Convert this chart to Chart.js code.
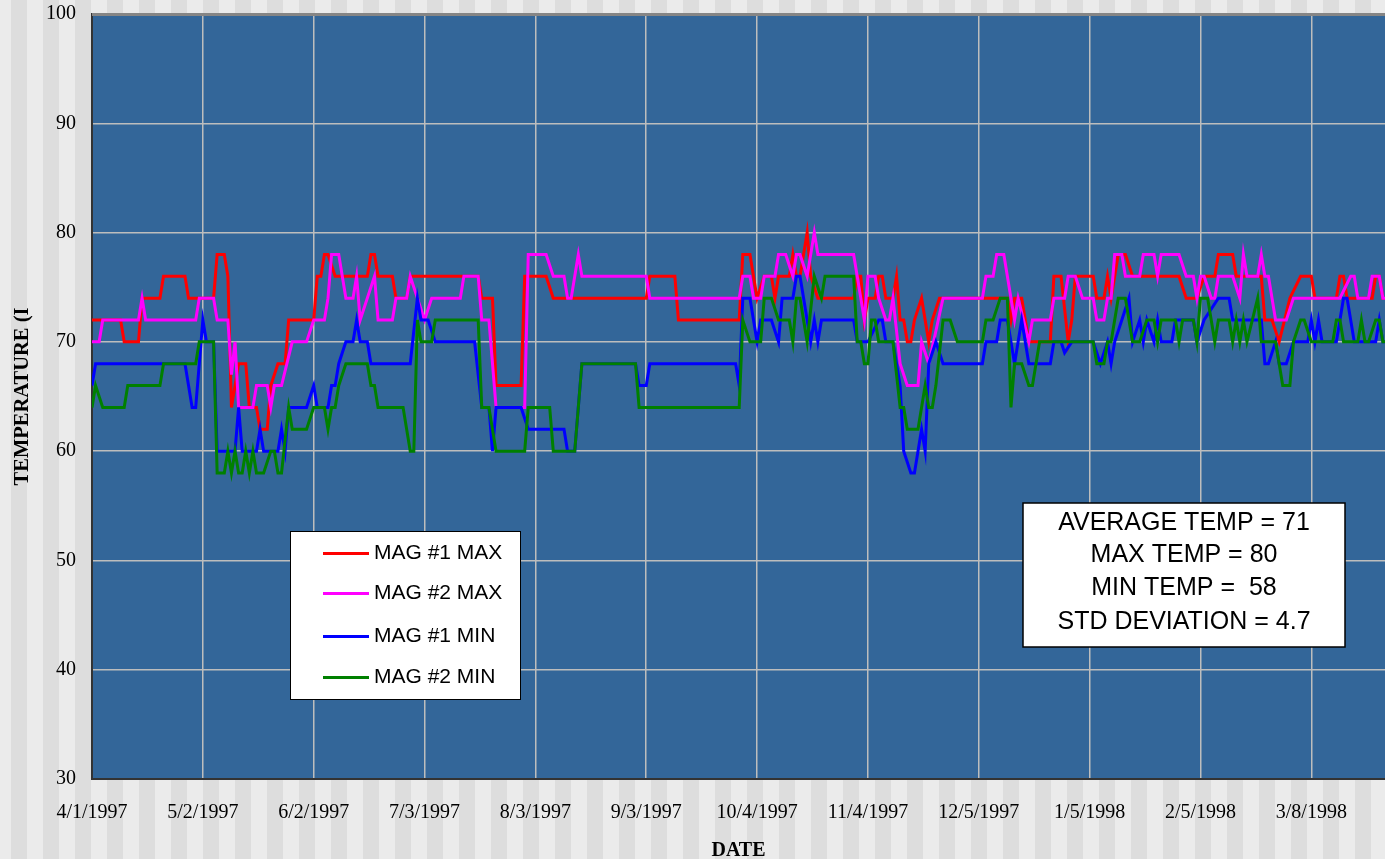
<!DOCTYPE html>
<html>
<head>
<meta charset="utf-8">
<title>Magazine temperatures 1997-1998</title>
<script src="https://cdn.jsdelivr.net/npm/chart.js@4.4.0/dist/chart.umd.min.js"></script>
<style>
    html, body { margin: 0; padding: 0; background: #ebebeb; }
    canvas { display: block; }
</style>
</head>
<body>
<canvas id="tempChart" width="1385" height="859"></canvas>
<script>
// values, day 0 = 4/1/1997
const dateLabels = ['4/1/1997', '5/2/1997', '6/2/1997', '7/3/1997', '8/3/1997', '9/3/1997',
    '10/4/1997', '11/4/1997', '12/5/1997', '1/5/1998', '2/5/1998', '3/8/1998'];
const tickDays = [0, 31, 62, 93, 124, 155, 186, 217, 248, 279, 310, 341];
const tempTicks = [30, 40, 50, 60, 70, 80, 90, 100];

const legendLabels = ['MAG #1 MAX', 'MAG #2 MAX', 'MAG #1 MIN', 'MAG #2 MIN'];
const statLines = ['AVERAGE TEMP = 71', 'MAX TEMP = 80', 'MIN TEMP =  58', 'STD DEVIATION = 4.7'];

const mag1MaxDays = [0, 8, 9, 13, 14, 19, 20, 26, 27, 34,
    35, 37, 38, 39, 41, 43, 44, 46, 47, 49,
    50, 52, 54, 55, 62, 63, 64, 65, 66, 68,
    77, 78, 79, 80, 84, 85, 88, 89, 108, 109,
    112, 113, 120, 121, 127, 129, 155, 156, 163, 164,
    181, 182, 184, 186, 188, 190, 191, 192, 195, 196,
    197, 198, 200, 201, 203, 213, 214, 215, 216, 217,
    219, 220, 221, 222, 224, 225, 226, 227, 228, 229,
    230, 232, 233, 234, 235, 237, 256, 257, 258, 260,
    261, 262, 268, 269, 271, 273, 274, 275, 280, 281,
    283, 284, 285, 287, 289, 291, 304, 306, 309, 311,
    314, 315, 319, 320, 327, 328, 330, 332, 335, 338,
    341, 342, 348, 349, 350, 351, 358, 359, 360, 361, 362];
const mag1MaxTemps = [72, 72, 70, 70, 74, 74, 76, 76, 74, 74,
    78, 78, 76, 64, 68, 68, 64, 64, 62, 62,
    66, 68, 68, 72, 72, 76, 76, 78, 78, 76,
    76, 78, 78, 76, 76, 74, 74, 76, 76, 74,
    74, 66, 66, 76, 76, 74, 74, 76, 76, 72,
    72, 78, 78, 74, 76, 76, 74, 76, 76, 78,
    76, 76, 80, 76, 74, 74, 76, 76, 72, 74,
    74, 76, 76, 74, 74, 76, 72, 72, 70, 70,
    72, 74, 72, 70, 72, 74, 74, 72, 74, 74,
    72, 70, 70, 76, 76, 70, 72, 76, 76, 74,
    74, 76, 74, 78, 78, 76, 76, 74, 74, 76,
    76, 78, 78, 76, 76, 72, 72, 70, 74, 76,
    76, 74, 74, 76, 76, 74, 74, 76, 76, 74, 74];

const mag2MaxDays = [0, 2, 3, 13, 14, 15, 29, 30, 34, 35,
    38, 39, 40, 41, 45, 46, 49, 50, 51, 53,
    56, 60, 62, 65, 66, 67, 69, 71, 73, 74,
    75, 79, 80, 84, 85, 88, 89, 91, 93, 95,
    103, 104, 108, 109, 111, 112, 113, 121, 122, 127,
    129, 132, 133, 134, 136, 137, 155, 156, 181, 182,
    184, 185, 187, 188, 191, 192, 194, 196, 197, 198,
    200, 202, 203, 213, 214, 216, 217, 219, 220, 222,
    223, 224, 226, 228, 231, 232, 234, 238, 249, 250,
    252, 253, 255, 257, 258, 259, 262, 263, 268, 269,
    272, 273, 275, 277, 280, 281, 283, 284, 285, 286,
    288, 289, 293, 294, 297, 298, 299, 304, 306, 308,
    309, 310, 311, 313, 314, 315, 319, 321, 322, 323,
    326, 327, 328, 329, 331, 334, 336, 349, 352, 353,
    354, 357, 358, 360, 361, 362];
const mag2MaxTemps = [70, 70, 72, 72, 74, 72, 72, 74, 74, 72,
    72, 67, 70, 64, 64, 66, 66, 64, 66, 66,
    70, 70, 72, 72, 74, 78, 78, 74, 74, 76,
    72, 76, 72, 72, 74, 74, 76, 74, 72, 74,
    74, 76, 76, 72, 72, 68, 64, 64, 78, 78,
    76, 76, 74, 74, 78, 76, 76, 74, 74, 76,
    76, 74, 74, 76, 76, 78, 78, 76, 78, 78,
    76, 80, 78, 78, 76, 72, 76, 76, 74, 72,
    72, 74, 68, 66, 66, 70, 68, 74, 74, 76,
    76, 78, 78, 74, 72, 74, 70, 72, 72, 74,
    74, 76, 76, 74, 74, 72, 72, 74, 74, 78,
    78, 76, 76, 78, 78, 76, 78, 78, 76, 76,
    74, 76, 76, 74, 74, 76, 76, 74, 78, 76,
    76, 78, 76, 76, 72, 72, 74, 74, 76, 76,
    74, 74, 76, 76, 74, 74];

const mag1MinDays = [0, 1, 26, 27, 28, 29, 31, 32, 34, 35,
    40, 41, 42, 46, 47, 48, 52, 53, 54, 55,
    60, 62, 63, 66, 67, 68, 69, 71, 73, 74,
    75, 77, 78, 89, 91, 92, 94, 96, 107, 109,
    111, 112, 113, 120, 122, 132, 133, 135, 137, 152,
    153, 155, 156, 180, 181, 182, 184, 186, 187, 190,
    192, 193, 196, 197, 198, 201, 202, 203, 204, 213,
    214, 217, 220, 221, 222, 224, 225, 226, 227, 229,
    230, 231, 232, 233, 234, 236, 238, 249, 250, 253,
    254, 256, 258, 259, 260, 262, 268, 269, 271, 272,
    274, 280, 282, 284, 285, 286, 288, 290, 291, 293,
    294, 295, 297, 298, 299, 302, 303, 308, 309, 311,
    315, 318, 319, 327, 328, 329, 331, 332, 334, 336,
    340, 341, 342, 343, 344, 348, 350, 351, 352, 353,
    359, 360, 361, 362];
const mag1MinTemps = [66, 68, 68, 66, 64, 64, 72, 70, 70, 60,
    60, 64, 60, 60, 62, 60, 60, 62, 60, 64,
    64, 66, 64, 64, 66, 66, 68, 70, 70, 72,
    70, 70, 68, 68, 74, 72, 72, 70, 70, 64,
    64, 60, 64, 64, 62, 62, 60, 60, 68, 68,
    66, 66, 68, 68, 66, 74, 74, 70, 72, 72,
    70, 74, 74, 76, 76, 70, 72, 70, 72, 72,
    70, 70, 72, 72, 70, 70, 68, 66, 60, 58,
    58, 60, 62, 60, 68, 70, 68, 68, 70, 70,
    72, 72, 68, 70, 72, 68, 68, 70, 70, 69,
    70, 70, 68, 70, 68, 70, 72, 74, 70, 72,
    70, 72, 70, 72, 70, 70, 72, 72, 70, 72,
    74, 74, 72, 72, 68, 68, 70, 68, 68, 70,
    70, 72, 70, 72, 70, 70, 74, 74, 72, 70,
    70, 72, 70, 70];

const mag2MinDays = [0, 1, 3, 9, 10, 19, 20, 29, 30, 34,
    35, 37, 38, 39, 40, 41, 42, 43, 44, 45,
    46, 48, 50, 51, 52, 53, 55, 56, 60, 62,
    65, 66, 67, 68, 69, 71, 77, 78, 79, 80,
    87, 89, 90, 91, 92, 95, 96, 108, 109, 111,
    113, 121, 122, 128, 129, 135, 137, 152, 153, 181,
    182, 184, 187, 188, 190, 192, 195, 196, 197, 198,
    200, 202, 204, 205, 213, 214, 215, 216, 217, 218,
    219, 220, 224, 226, 227, 228, 231, 233, 234, 235,
    236, 238, 240, 242, 249, 250, 252, 254, 256, 257,
    258, 260, 262, 263, 264, 265, 280, 281, 283, 284,
    285, 287, 289, 291, 293, 295, 297, 298, 299, 303,
    304, 305, 308, 309, 310, 312, 313, 314, 315, 318,
    319, 320, 321, 322, 323, 326, 327, 331, 332, 333,
    335, 336, 338, 339, 341, 347, 348, 349, 350, 354,
    355, 356, 357, 359, 360, 361, 362];
const mag2MinTemps = [64, 66, 64, 64, 66, 66, 68, 68, 70, 70,
    58, 58, 60, 58, 60, 58, 58, 60, 58, 60,
    58, 58, 60, 60, 58, 58, 64, 62, 62, 64,
    64, 62, 64, 64, 66, 68, 68, 66, 66, 64,
    64, 60, 60, 72, 70, 70, 72, 72, 64, 64,
    60, 60, 64, 64, 60, 60, 68, 68, 64, 64,
    72, 70, 70, 74, 74, 72, 72, 70, 74, 74,
    70, 76, 74, 76, 76, 70, 70, 68, 68, 72,
    72, 70, 70, 64, 64, 62, 62, 66, 64, 64,
    66, 72, 72, 70, 70, 72, 72, 74, 74, 64,
    68, 68, 66, 66, 68, 70, 70, 68, 68, 70,
    70, 74, 74, 70, 70, 72, 72, 70, 72, 72,
    70, 72, 72, 70, 74, 74, 72, 70, 72, 72,
    70, 72, 70, 72, 70, 74, 70, 70, 68, 66,
    66, 70, 72, 72, 70, 70, 72, 72, 70, 70,
    72, 70, 70, 72, 72, 70, 70];

const seriesColors = ['#ff0000', '#ff00ff', '#0000ff', '#008000'];

function toPoints(days, temps) {
    return days.map((d, i) => ({x: d, y: temps[i]}));
}

// striped page background and the blue plot area
const backdrop = {
    id: 'backdrop',
    beforeDraw(chart) {
        const {ctx, width, height, chartArea: a} = chart;
        ctx.save();
        ctx.fillStyle = '#ebebeb';
        ctx.fillRect(0, 0, width, height);
        ctx.fillStyle = '#dddddd';
        for (let x = 11; x < width; x += 32) {
            ctx.fillRect(x, 0, 16, height);
        }
        ctx.fillStyle = '#336699';
        ctx.fillRect(a.left, a.top, a.right - a.left, a.bottom - a.top);
        ctx.restore();
    }
};

// top frame line, floating legend and the stats box
const overlays = {
    id: 'overlays',
    afterDraw(chart) {
        const {ctx, chartArea: a} = chart;
        ctx.save();
        ctx.fillStyle = '#858585';
        ctx.fillRect(a.left, a.top - 1, a.right - a.left, 3);

        // legend
        ctx.fillStyle = '#ffffff';
        ctx.fillRect(290, 531, 230, 168);
        ctx.strokeStyle = '#000000';
        ctx.lineWidth = 1;
        ctx.strokeRect(290.5, 531.5, 230, 168);
        const rowY = [551, 591, 634, 675];
        ctx.font = '21px "Liberation Sans", Arial, sans-serif';
        ctx.textAlign = 'left';
        ctx.textBaseline = 'alphabetic';
        legendLabels.forEach((label, i) => {
            ctx.strokeStyle = seriesColors[i];
            ctx.lineWidth = 3;
            ctx.beginPath();
            ctx.moveTo(323, rowY[i] + 2.5);
            ctx.lineTo(369, rowY[i] + 2.5);
            ctx.stroke();
            ctx.fillStyle = '#000000';
            ctx.fillText(label, 374, rowY[i] + 7.5);
        });

        // stats box
        ctx.fillStyle = '#ffffff';
        ctx.fillRect(1023, 503, 322, 144);
        ctx.strokeStyle = '#000000';
        ctx.lineWidth = 1.5;
        ctx.strokeRect(1023, 503, 322, 144);
        ctx.fillStyle = '#000000';
        ctx.font = '25px "Liberation Sans", Arial, sans-serif';
        ctx.textAlign = 'center';
        const statY = [521, 553.5, 586, 620];
        statLines.forEach((line, i) => {
            ctx.fillText(line, 1184, statY[i] + 8.5);
        });
        ctx.restore();
    }
};

const serif = '"Liberation Serif", "Times New Roman", serif';

new Chart(document.getElementById('tempChart'), {
    type: 'line',
    data: {
        datasets: [
            {label: legendLabels[0], data: toPoints(mag1MaxDays, mag1MaxTemps), borderColor: seriesColors[0], order: 4},
            {label: legendLabels[1], data: toPoints(mag2MaxDays, mag2MaxTemps), borderColor: seriesColors[1], order: 3},
            {label: legendLabels[2], data: toPoints(mag1MinDays, mag1MinTemps), borderColor: seriesColors[2], order: 2},
            {label: legendLabels[3], data: toPoints(mag2MinDays, mag2MinTemps), borderColor: seriesColors[3], order: 1}
        ]
    },
    options: {
        responsive: false,
        animation: false,
        devicePixelRatio: 1,
        layout: {padding: {top: 14, left: 0, right: 0, bottom: 0}},
        elements: {
            line: {borderWidth: 3, tension: 0, fill: false},
            point: {radius: 0, hoverRadius: 0}
        },
        scales: {
            x: {
                type: 'linear',
                min: 0,
                max: 361.6,
                afterBuildTicks: scale => { scale.ticks = tickDays.map(v => ({value: v})); },
                afterFit: scale => { scale.height = 80; },
                ticks: {
                    autoSkip: false,
                    maxRotation: 0,
                    padding: 22,
                    color: '#000000',
                    font: {family: serif, size: 20},
                    callback: (value, index) => dateLabels[index]
                },
                grid: {color: '#bdbdbd', lineWidth: 1.5, drawTicks: false},
                border: {display: true, color: '#333333', width: 2},
                title: {
                    display: true,
                    text: 'DATE',
                    color: '#000000',
                    font: {family: serif, size: 20, weight: 'bold', lineHeight: 0.85},
                    padding: {top: 0, bottom: 0}
                }
            },
            y: {
                min: 30,
                max: 100,
                afterBuildTicks: scale => { scale.ticks = tempTicks.map(v => ({value: v})); },
                afterFit: scale => {
                    scale.width = 92;
                    scale.paddingTop = 0;
                    scale.paddingBottom = 0;
                },
                ticks: {
                    padding: 16,
                    color: '#000000',
                    font: {family: serif, size: 20}
                },
                grid: {color: '#bdbdbd', lineWidth: 1.5, drawTicks: false},
                border: {display: true, color: '#333333', width: 2},
                title: {
                    display: true,
                    text: 'TEMPERATURE (I',
                    color: '#000000',
                    font: {family: serif, size: 20.5, weight: 'bold', lineHeight: 1},
                    padding: {top: 12, bottom: 0}
                }
            }
        },
        plugins: {
            legend: {display: false},
            tooltip: {enabled: false}
        }
    },
    plugins: [backdrop, overlays]
});
</script>
</body>
</html>
